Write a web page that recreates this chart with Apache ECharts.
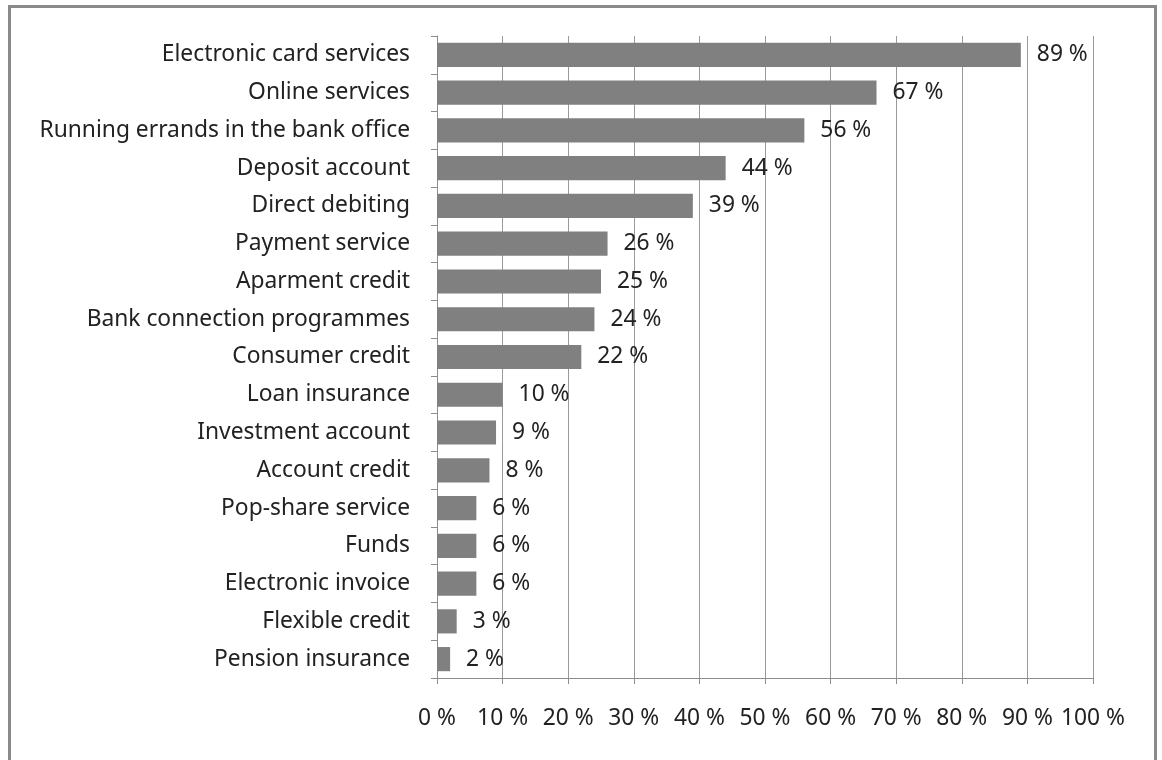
<!DOCTYPE html>
<html>
<head>
<meta charset="utf-8">
<script src="https://cdn.jsdelivr.net/npm/echarts@6/dist/echarts.min.js"></script>
<style>
  html, body { margin: 0; padding: 0; background: #fff; overflow: hidden; }
  #frame { position: absolute; left: 8px; top: 5px; width: 1143px; height: 800px; border: 3px solid #8a8a8a; box-sizing: content-box; }
  #chart { position: absolute; left: 0; top: 0; width: 1162px; height: 760px; }
</style>
</head>
<body>
<div id="frame"></div>
<div id="chart"></div>
<script>
// Services used, share of respondents (%)
const categories = [
  'Electronic card services',
  'Online services',
  'Running errands in the bank office',
  'Deposit account',
  'Direct debiting',
  'Payment service',
  'Aparment credit',
  'Bank connection programmes',
  'Consumer credit',
  'Loan insurance',
  'Investment account',
  'Account credit',
  'Pop-share service',
  'Funds',
  'Electronic invoice',
  'Flexible credit',
  'Pension insurance'
];
const values = [89, 67, 56, 44, 39, 26, 25, 24, 22, 10, 9, 8, 6, 6, 6, 3, 2];
const xTicks = [0, 10, 20, 30, 40, 50, 60, 70, 80, 90, 100];

const FONT = 'Noto Sans';
const FS = 22.8;
const chart = echarts.init(document.getElementById('chart'), null, { renderer: 'canvas' });
chart.setOption({
  animation: false,
  backgroundColor: 'transparent',
  grid: { left: 437, right: 69, top: 36, bottom: 82, containLabel: false },
  xAxis: {
    type: 'value',
    min: xTicks[0],
    max: xTicks[xTicks.length - 1],
    interval: 10,
    axisLine: { show: true, lineStyle: { color: '#8c8c8c', width: 1 } },
    axisTick: { show: true, length: 6, lineStyle: { color: '#8c8c8c' } },
    splitLine: { show: true, lineStyle: { color: '#9a9a9a', width: 1 } },
    axisLabel: {
      margin: 29,
      color: '#222',
      fontFamily: FONT,
      fontSize: FS,
      formatter: v => v + ' %'
    }
  },
  yAxis: {
    type: 'category',
    inverse: true,
    data: categories,
    axisLine: { show: true, lineStyle: { color: '#8c8c8c', width: 1 } },
    axisTick: { show: true, length: 6, lineStyle: { color: '#8c8c8c' } },
    splitLine: { show: false },
    axisLabel: {
      margin: 27,
      color: '#222',
      fontFamily: FONT,
      fontSize: FS
    }
  },
  series: [{
    type: 'bar',
    data: values,
    barCategoryGap: '36%',
    itemStyle: { color: '#808080' },
    label: {
      show: true,
      position: 'right',
      distance: 16,
      color: '#222',
      fontFamily: FONT,
      fontSize: FS,
      formatter: p => p.value + ' %'
    }
  }]
});
</script>
</body>
</html>
